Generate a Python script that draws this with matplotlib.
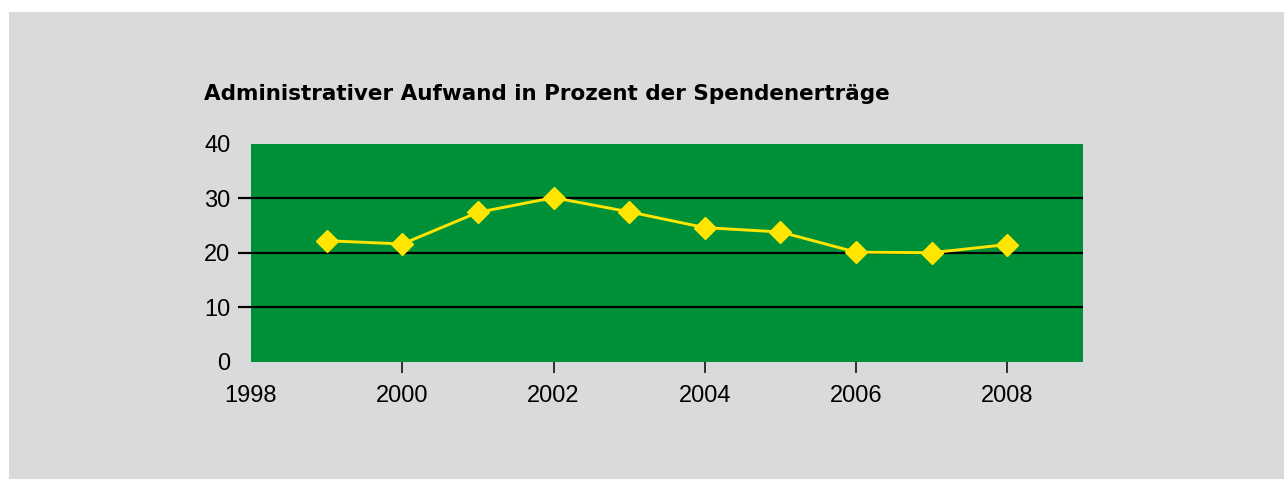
import matplotlib
matplotlib.use("Agg")
import matplotlib.pyplot as plt
from matplotlib.patches import Rectangle

# Daten
years = [1999, 2000, 2001, 2002, 2003, 2004, 2005, 2006, 2007, 2008]
aufwand = [22.2, 21.6, 27.4, 30.1, 27.5, 24.6, 23.8, 20.1, 20.0, 21.5]
x_ticks = [1998, 2000, 2002, 2004, 2006, 2008]
y_ticks = [0, 10, 20, 30, 40]
title = "Administrativer Aufwand in Prozent der Spendenerträge"

GRAY = "#d9dadc"
GREEN = "#009138"
YELLOW = "#ffe500"

plt.rcParams["font.family"] = ["Liberation Sans", "DejaVu Sans"]

W, H = 1284, 479
fig = plt.figure(figsize=(W / 100, H / 100), dpi=100, facecolor="white")
fig.patches.append(Rectangle((9 / W, 0), 1 - 9 / W, (H - 12) / H,
                             transform=fig.transFigure, facecolor=GRAY,
                             edgecolor="none", zorder=-10))

ax = fig.add_axes([251 / W, 1 - 361.7 / H, (1083 - 251) / W, (361.7 - 143.7) / H])
ax.set_zorder(1)
ax.set_facecolor(GREEN)
for s in ax.spines.values():
    s.set_visible(False)

ax.plot(years, aufwand, color=YELLOW, lw=2.1, marker="D", ms=11.5,
        mec=YELLOW, mfc=YELLOW, zorder=3)

ax.set_xlim(1998, 2009)
ax.set_ylim(0, 40)
ax.set_xticks(x_ticks)
ax.set_yticks(y_ticks)

ax.tick_params(axis="y", length=9.4, width=1.6, color="black", pad=5.5,
               labelsize=17, direction="out")
ax.tick_params(axis="x", length=8, width=1.3, color="#222222", pad=9,
               labelsize=17, direction="out")
ax.yaxis.grid(True, color="black", lw=1.6)
ax.set_axisbelow(False)

for t, v in zip(ax.yaxis.get_major_ticks(), y_ticks):
    if v in (0, 40):
        t.tick1line.set_visible(False)
        t.gridline.set_visible(False)
    t.gridline.set_zorder(2)
for t, v in zip(ax.xaxis.get_major_ticks(), x_ticks):
    if v == 1998:
        t.tick1line.set_visible(False)

fig.text(204 / W, 1 - 100 / H, title, fontsize=15.5, fontweight="bold",
         family="DejaVu Sans", ha="left", va="baseline", color="black")

fig.savefig("out.png", dpi=100, facecolor=fig.get_facecolor())
